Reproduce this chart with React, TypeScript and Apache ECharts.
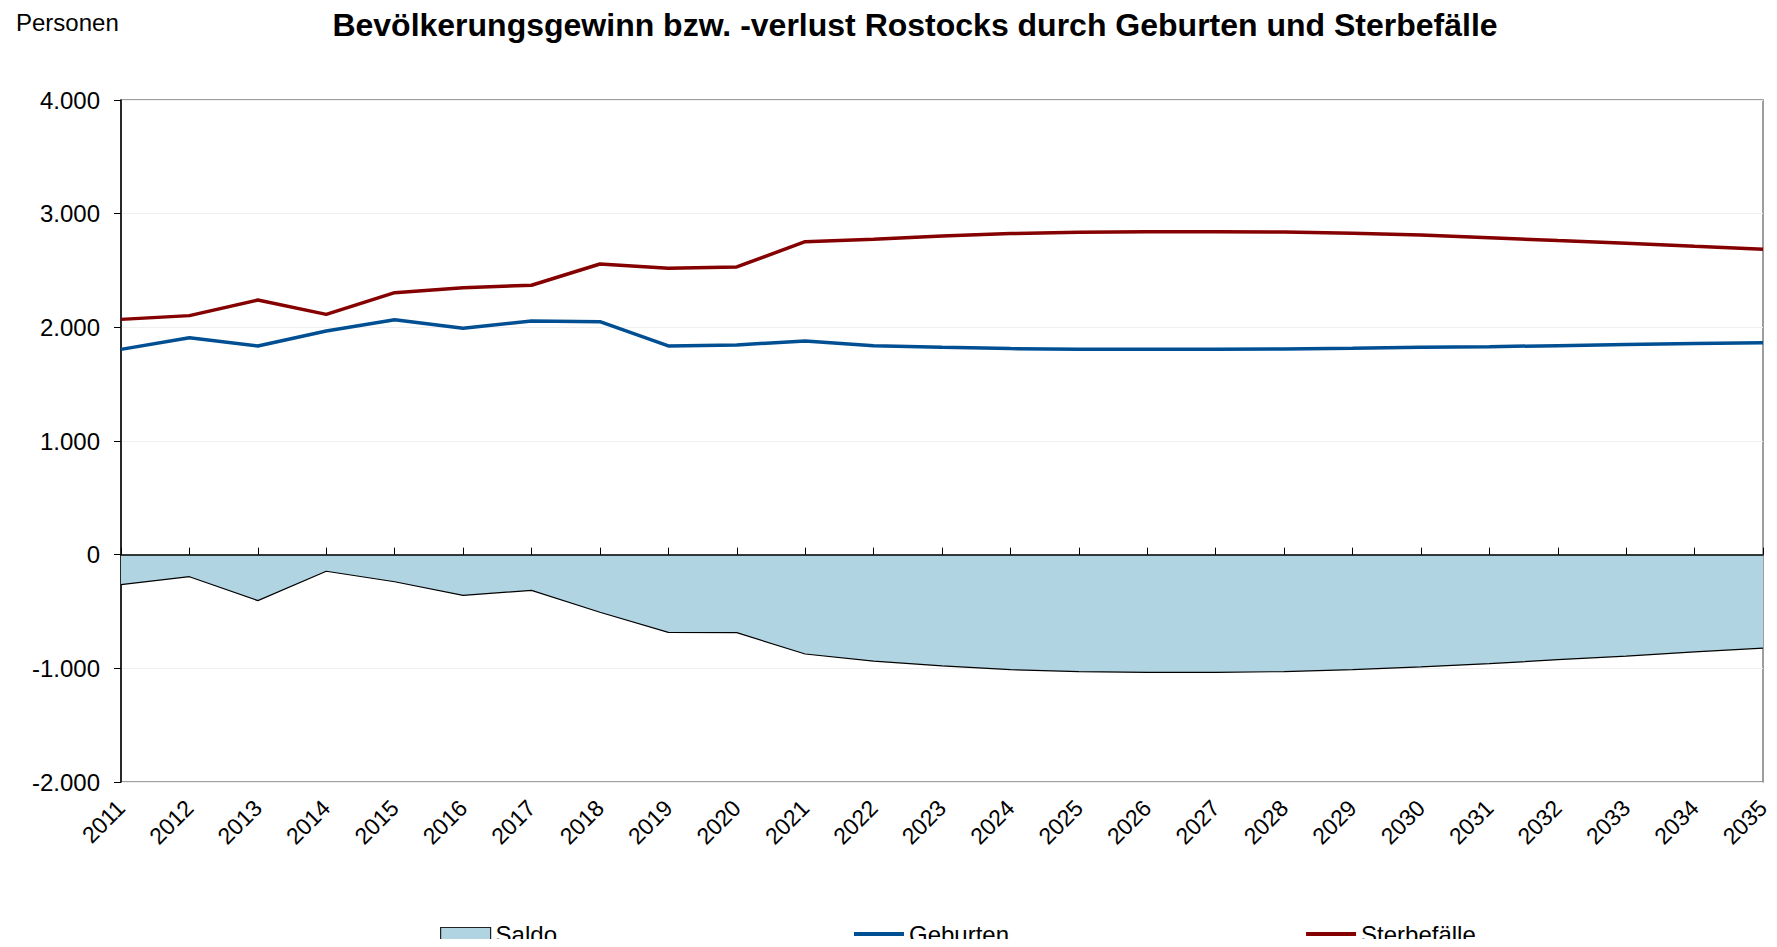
import React, { useEffect, useRef } from "react";
import * as echarts from "echarts";

const years = ["2011","2012","2013","2014","2015","2016","2017","2018","2019","2020","2021","2022","2023","2024","2025","2026","2027","2028","2029","2030","2031","2032","2033","2034","2035"];
const geburten = [1806,1909,1836,1968,2067,1991,2056,2050,1836,1845,1880,1839,1825,1813,1807,1807,1807,1810,1816,1825,1830,1839,1848,1857,1865];
const sterbefaelle = [2070,2103,2240,2114,2305,2349,2370,2557,2519,2531,2754,2775,2804,2825,2836,2842,2842,2839,2827,2813,2789,2763,2740,2713,2687];
const saldo = [-264,-194,-404,-146,-238,-358,-314,-507,-683,-686,-874,-936,-979,-1012,-1029,-1035,-1035,-1029,-1011,-988,-959,-924,-892,-856,-822];
const yTicks = [-2000, -1000, 0, 1000, 2000, 3000, 4000];

const FONT = "Liberation Sans, Arial, sans-serif";
const LINE_ICON = "path://M0,0 M50,13 M0,4.5 L50,4.5 L50,8.5 L0,8.5 Z";

export default function App() {
  const ref = useRef<HTMLDivElement>(null);
  useEffect(() => {
    if (!ref.current) return;
    const chart = echarts.init(ref.current, null, { renderer: "svg" });
    chart.setOption({
      animation: false,
      backgroundColor: "#ffffff",
      textStyle: { fontFamily: FONT },
      title: {
        text: "Bevölkerungsgewinn bzw. -verlust Rostocks durch Geburten und Sterbefälle",
        left: 910,
        top: 4,
        textAlign: "center",
        textStyle: { fontFamily: FONT, fontSize: 32, fontWeight: "bold", color: "#000" },
      },
      graphic: [
        {
          type: "text",
          left: 16,
          top: 10,
          style: { text: "Personen", font: "24px " + FONT, fill: "#000" },
        },
      ],
      legend: {
        left: 435,
        top: 917,
        itemGap: 297,
        itemWidth: 50,
        itemHeight: 13,
        textStyle: { fontFamily: FONT, fontSize: 24, color: "#000" },
        data: [
          { name: "Saldo", icon: "rect", itemStyle: { color: "#B1D4E2", borderColor: "#222", borderWidth: 1.2 } },
          { name: "Geburten", icon: LINE_ICON, itemStyle: { color: "#004F93", borderWidth: 0 } },
          { name: "Sterbefälle", icon: LINE_ICON, itemStyle: { color: "#850000", borderWidth: 0 } },
        ],
      },
      grid: { left: 121, right: 14, top: 100, bottom: 165, show: true, borderColor: "#7f7f7f", borderWidth: 1.5 },
      xAxis: [
        {
          type: "category",
          data: years,
          boundaryGap: false,
          z: 10,
          axisLine: { onZero: true, lineStyle: { color: "#000", width: 1.5 } },
          axisTick: { inside: true, length: 7, lineStyle: { color: "#000", width: 1 } },
          axisLabel: { show: false },
          splitLine: { show: false },
        },
        {
          type: "category",
          data: years,
          boundaryGap: false,
          position: "bottom",
          axisLine: { show: false, onZero: false },
          axisTick: { show: false },
          axisLabel: { rotate: 45, fontSize: 23, color: "#000", fontFamily: FONT, margin: 22 },
          splitLine: { show: false },
        },
      ],
      yAxis: {
        type: "value",
        min: yTicks[0],
        max: yTicks[yTicks.length - 1],
        interval: 1000,
        axisLine: { show: true, lineStyle: { color: "#000", width: 1.5 } },
        axisTick: { show: true, length: 7, lineStyle: { color: "#000" } },
        axisLabel: {
          fontSize: 24,
          color: "#000",
          fontFamily: FONT,
          margin: 21,
          formatter: (v: number) => v.toLocaleString("de-DE"),
        },
        splitLine: { show: true, lineStyle: { color: "#efefef", width: 1 } },
      },
      series: [
        {
          name: "Saldo",
          type: "line",
          data: saldo,
          symbol: "none",
          lineStyle: { color: "#000", width: 1.2 },
          itemStyle: { color: "#B1D4E2", borderColor: "#222" },
          areaStyle: { color: "#B1D4E2", opacity: 1 },
          z: 2,
        },
        {
          name: "Geburten",
          type: "line",
          data: geburten,
          symbol: "none",
          lineStyle: { color: "#004F93", width: 3.5 },
          itemStyle: { color: "#004F93" },
          z: 3,
        },
        {
          name: "Sterbefälle",
          type: "line",
          data: sterbefaelle,
          symbol: "none",
          lineStyle: { color: "#850000", width: 3.5 },
          itemStyle: { color: "#850000" },
          z: 3,
        },
      ],
    });
    return () => chart.dispose();
  }, []);
  return <div ref={ref} style={{ width: 1777, height: 947, margin: -8 }} />;
}
